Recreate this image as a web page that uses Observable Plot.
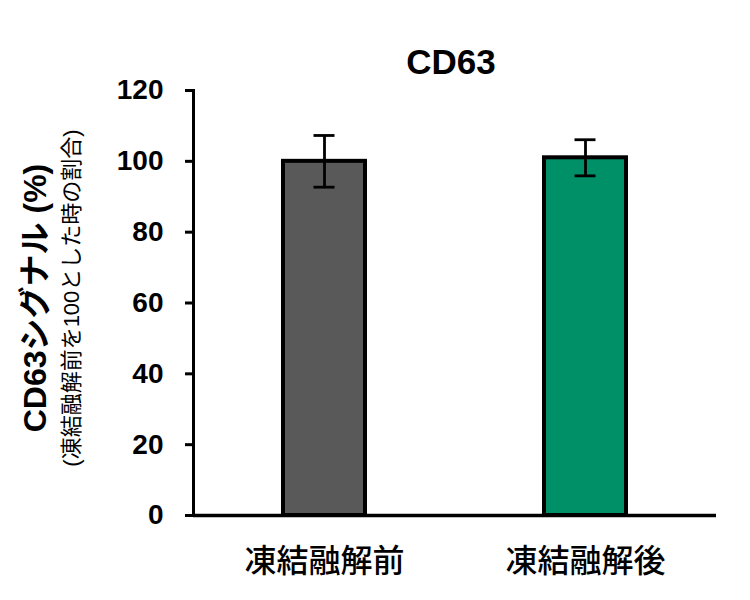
<!DOCTYPE html>
<html>
<head>
<meta charset="utf-8">
<script src="https://cdn.jsdelivr.net/npm/d3@7"></script>
<script src="https://cdn.jsdelivr.net/npm/@observablehq/plot@0.6"></script>
<style>
  html, body { margin: 0; padding: 0; background: white; }
</style>
</head>
<body>
<div id="chart"></div>
<script>
const categories = ["凍結融解前", "凍結融解後"];
const means = [100, 101];
const errors = [7.3, 5.1];
const barColors = ["#595959", "#009068"];
const yTicks = [0, 20, 40, 60, 80, 100, 120];
const titleText = "CD63";
const yLabel = "CD63シグナル (%)";
const ySubLabel = "(凍結融解前を100とした時の割合)";

const data = categories.map((c, i) => ({
  cat: c, mean: means[i], lo: means[i] - errors[i], hi: means[i] + errors[i], color: barColors[i]
}));

const latin = "'Liberation Sans', Arial, 'Noto Sans CJK JP', sans-serif";
const cjk = "'Noto Sans CJK JP', sans-serif";

const chart = Plot.plot({
  width: 750,
  height: 600,
  marginLeft: 193,
  marginRight: 34,
  marginTop: 90,
  marginBottom: 85,
  style: { fontFamily: latin, color: "black", background: "white" },
  x: { domain: categories, paddingInner: 0.686, paddingOuter: 0.343, axis: null },
  y: { domain: [0, 120], axis: null },
  color: { type: "identity" },
  marks: [
    Plot.barY(data, { x: "cat", y: "mean", fill: "color", stroke: "black", strokeWidth: 4 }),
    Plot.ruleX(data, { x: "cat", y1: "lo", y2: "hi", stroke: "black", strokeWidth: 2.8 }),
    Plot.tickY(data, { x: "cat", y: "hi", insetLeft: 30.5, insetRight: 30.5, stroke: "black", strokeWidth: 2.8 }),
    Plot.tickY(data, { x: "cat", y: "lo", insetLeft: 30.5, insetRight: 30.5, stroke: "black", strokeWidth: 2.8 }),
    Plot.ruleY([0], { stroke: "black", strokeWidth: 3.5 }),
    Plot.frame({ anchor: "left", stroke: "black", strokeWidth: 3 }),
    Plot.axisY({ ticks: yTicks, tickSize: 8, tickPadding: 22, fontSize: 28, fontWeight: "bold", strokeWidth: 3, label: null }),
    Plot.axisX({ tickSize: 0, tickPadding: 34, fontSize: 32, fontFamily: cjk, fontWeight: 500, label: null }),
    Plot.text([titleText], { text: d => d, frameAnchor: "top", lineAnchor: "middle", textAnchor: "middle", dx: -4, dy: -28, fontSize: 35, fontWeight: "bold" }),
    Plot.text([yLabel], { text: d => d, frameAnchor: "left", textAnchor: "middle", lineAnchor: "middle", rotate: -90, dx: -158, dy: -5, fontSize: 32, fontWeight: "bold" }),
    Plot.text([ySubLabel], { text: d => d, frameAnchor: "left", textAnchor: "middle", lineAnchor: "middle", rotate: -90, dx: -122, dy: -5, fontSize: 22 })
  ]
});
document.getElementById("chart").appendChild(chart);
</script>
</body>
</html>
